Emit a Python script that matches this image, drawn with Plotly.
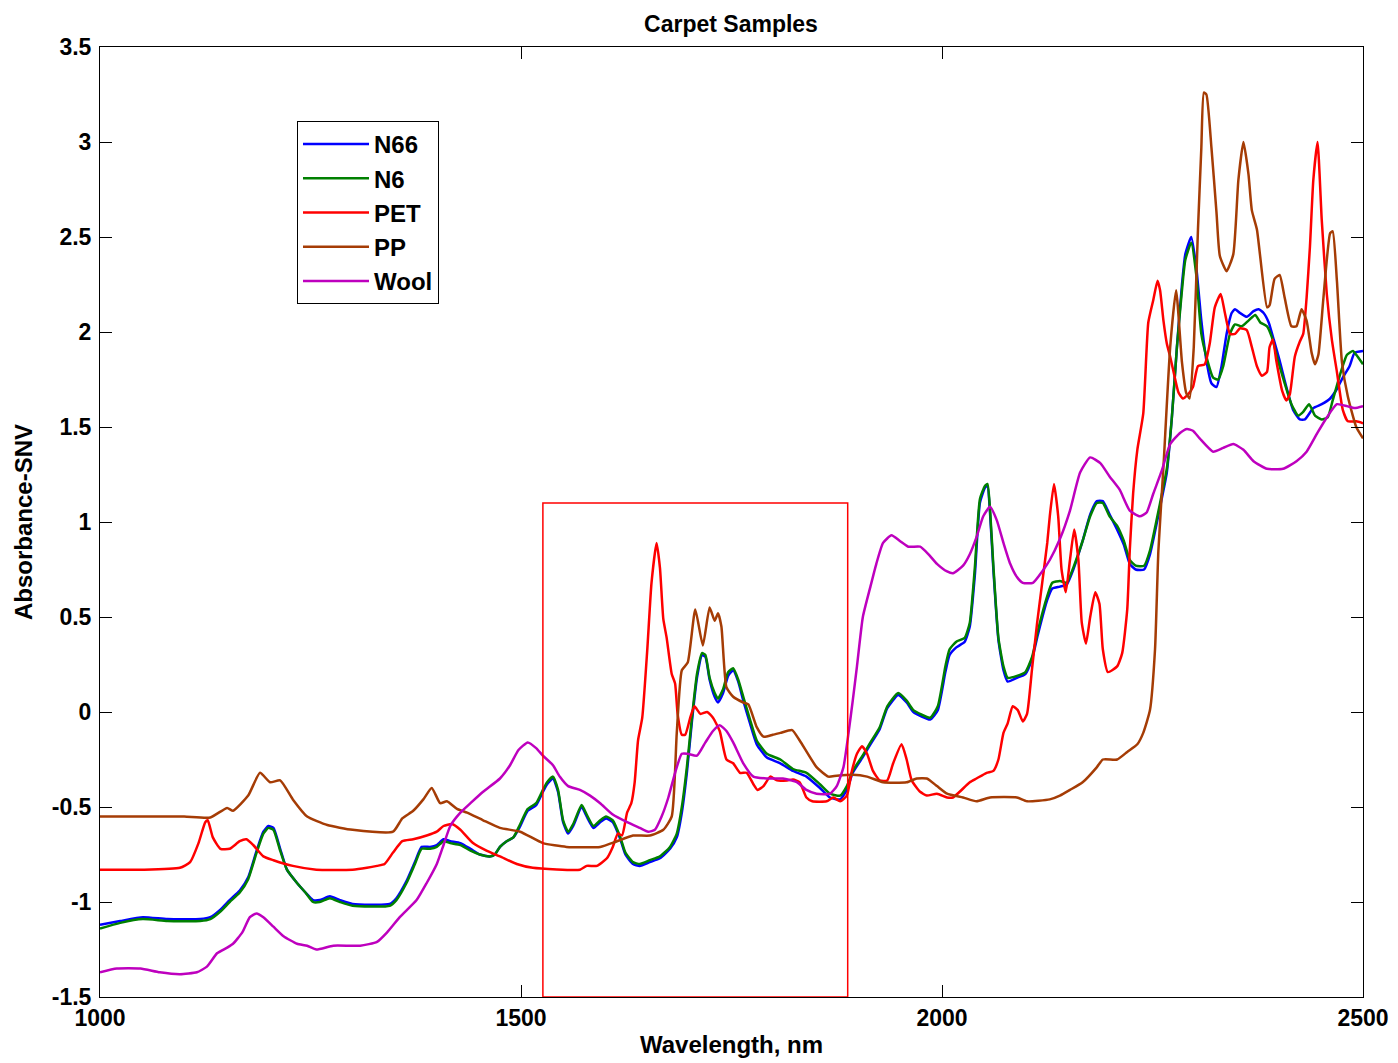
import plotly.graph_objects as go

# ---------------- data ----------------
wl_n6 = [1000, 1024, 1051, 1080, 1119, 1131, 1143, 1154, 1166, 1176, 1186, 1194, 1200, 1206, 1214, 1222,
         1234, 1244, 1253, 1261, 1273, 1285, 1300, 1344, 1352, 1364, 1374, 1382, 1392, 1400, 1408, 1416,
         1428, 1440, 1451, 1463, 1469, 1475, 1483, 1491, 1498, 1508, 1518, 1526, 1531, 1538, 1544, 1550,
         1556, 1562, 1572, 1578, 1586, 1594, 1601, 1609, 1618, 1624, 1633, 1641, 1653, 1665, 1677, 1685,
         1691, 1697, 1703, 1709, 1715, 1719, 1724, 1730, 1734, 1740, 1746, 1752, 1758, 1764, 1772, 1780,
         1792, 1808, 1823, 1839, 1855, 1867, 1879, 1887, 1894, 1907, 1915, 1926, 1935, 1948, 1958, 1966,
         1986, 1995, 2004, 2009, 2017, 2027, 2033, 2039, 2045, 2051, 2054, 2057, 2061, 2067, 2073, 2078,
         2089, 2099, 2107, 2114, 2125, 2131, 2140, 2148, 2156, 2167, 2176, 2184, 2191, 2199, 2208, 2216,
         2223, 2230, 2240, 2247, 2259, 2267, 2273, 2279, 2285, 2289, 2296, 2302, 2308, 2314, 2322, 2328,
         2334, 2342, 2348, 2356, 2364, 2372, 2378, 2386, 2392, 2399, 2407, 2415, 2423, 2429, 2436, 2443,
         2451, 2458, 2464, 2473, 2481, 2488, 2492, 2500]
n6 = [-1.14, -1.11, -1.09, -1.10, -1.10, -1.09, -1.05, -1.00, -0.95, -0.88, -0.74, -0.64, -0.61, -0.62, -0.73, -0.83,
      -0.90, -0.95, -1.00, -1.00, -0.98, -1.00, -1.02, -1.02, -0.99, -0.90, -0.80, -0.72, -0.72, -0.71, -0.68, -0.69,
      -0.70, -0.73, -0.75, -0.76, -0.75, -0.71, -0.68, -0.66, -0.60, -0.51, -0.48, -0.41, -0.37, -0.34, -0.41, -0.57,
      -0.63, -0.59, -0.49, -0.54, -0.60, -0.57, -0.55, -0.57, -0.66, -0.74, -0.79, -0.80, -0.78, -0.76, -0.71, -0.64,
      -0.50, -0.29, -0.03, 0.20, 0.31, 0.30, 0.18, 0.10, 0.07, 0.12, 0.21, 0.23, 0.17, 0.08, -0.04, -0.15,
      -0.22, -0.25, -0.30, -0.32, -0.38, -0.43, -0.44, -0.39, -0.31, -0.22, -0.16, -0.08, 0.03, 0.10, 0.06, 0.01,
      -0.03, 0.03, 0.24, 0.33, 0.37, 0.39, 0.47, 0.76, 1.12, 1.19, 1.20, 1.07, 0.77, 0.39, 0.24, 0.18,
      0.19, 0.21, 0.29, 0.43, 0.61, 0.68, 0.69, 0.68, 0.76, 0.90, 1.03, 1.10, 1.10, 1.03, 0.98, 0.90,
      0.80, 0.77, 0.77, 0.85, 1.10, 1.28, 1.55, 1.92, 2.22, 2.38, 2.47, 2.30, 1.99, 1.87, 1.76, 1.75,
      1.82, 1.99, 2.04, 2.03, 2.06, 2.09, 2.05, 2.03, 1.97, 1.85, 1.73, 1.62, 1.56, 1.58, 1.62, 1.56,
      1.54, 1.55, 1.64, 1.78, 1.88, 1.90, 1.88, 1.83]

wl_n66 = [1000, 1024, 1051, 1080, 1119, 1131, 1143, 1154, 1166, 1176, 1186, 1194, 1200, 1206, 1214, 1222,
          1234, 1244, 1253, 1261, 1273, 1285, 1300, 1344, 1352, 1364, 1374, 1382, 1392, 1400, 1408, 1416,
          1428, 1440, 1451, 1463, 1469, 1475, 1483, 1491, 1498, 1508, 1518, 1526, 1531, 1538, 1544, 1550,
          1556, 1562, 1572, 1578, 1586, 1594, 1601, 1609, 1618, 1624, 1633, 1641, 1653, 1665, 1677, 1685,
          1691, 1697, 1703, 1709, 1715, 1719, 1724, 1730, 1734, 1740, 1746, 1752, 1758, 1764, 1772, 1780,
          1792, 1808, 1823, 1839, 1855, 1867, 1879, 1887, 1894, 1907, 1915, 1926, 1935, 1948, 1958, 1966,
          1986, 1995, 2004, 2009, 2017, 2027, 2033, 2039, 2045, 2051, 2054, 2057, 2061, 2067, 2073, 2078,
          2089, 2099, 2107, 2114, 2125, 2131, 2140, 2148, 2156, 2167, 2176, 2184, 2191, 2199, 2208, 2216,
          2223, 2230, 2240, 2247, 2259, 2267, 2273, 2279, 2285, 2289, 2296, 2302, 2308, 2314, 2320, 2326,
          2332, 2338, 2344, 2348, 2354, 2362, 2370, 2376, 2382, 2388, 2394, 2401, 2409, 2417, 2425, 2431,
          2441, 2451, 2461, 2469, 2476, 2484, 2490, 2500]
n66 = [-1.12, -1.10, -1.08, -1.09, -1.09, -1.08, -1.04, -0.99, -0.94, -0.87, -0.73, -0.63, -0.60, -0.61, -0.72, -0.83,
       -0.90, -0.95, -0.99, -0.99, -0.97, -0.99, -1.01, -1.01, -0.98, -0.89, -0.79, -0.71, -0.71, -0.70, -0.67, -0.68,
       -0.69, -0.72, -0.75, -0.76, -0.75, -0.71, -0.68, -0.66, -0.61, -0.52, -0.49, -0.42, -0.38, -0.35, -0.42, -0.58,
       -0.64, -0.60, -0.50, -0.55, -0.61, -0.58, -0.56, -0.58, -0.67, -0.75, -0.80, -0.81, -0.79, -0.77, -0.72, -0.66,
       -0.53, -0.32, -0.05, 0.18, 0.30, 0.29, 0.17, 0.08, 0.05, 0.10, 0.19, 0.22, 0.16, 0.06, -0.06, -0.17,
       -0.24, -0.27, -0.31, -0.34, -0.40, -0.45, -0.46, -0.41, -0.32, -0.23, -0.17, -0.09, 0.02, 0.09, 0.05, 0.00,
       -0.04, 0.01, 0.21, 0.30, 0.34, 0.37, 0.45, 0.72, 1.10, 1.18, 1.19, 1.05, 0.75, 0.38, 0.22, 0.16,
       0.18, 0.20, 0.28, 0.41, 0.59, 0.65, 0.66, 0.67, 0.75, 0.90, 1.04, 1.11, 1.11, 1.04, 0.96, 0.88,
       0.78, 0.75, 0.75, 0.83, 1.08, 1.26, 1.55, 1.92, 2.25, 2.41, 2.50, 2.34, 2.06, 1.85, 1.73, 1.71,
       1.82, 1.99, 2.10, 2.12, 2.10, 2.08, 2.11, 2.12, 2.10, 2.05, 1.96, 1.85, 1.71, 1.59, 1.54, 1.54,
       1.60, 1.62, 1.65, 1.70, 1.76, 1.82, 1.89, 1.90]

wl_pet = [1000, 1050, 1095, 1107, 1117, 1125, 1128, 1134, 1143, 1154, 1166, 1174, 1182, 1194, 1206, 1229,
          1257, 1300, 1317, 1329, 1338, 1348, 1359, 1372, 1388, 1400, 1408, 1418, 1428, 1443, 1459, 1475,
          1495, 1514, 1570, 1578, 1590, 1602, 1609, 1615, 1620, 1626, 1631, 1635, 1639, 1644, 1650, 1655,
          1661, 1665, 1669, 1673, 1679, 1683, 1686, 1691, 1695, 1701, 1706, 1713, 1721, 1728, 1736, 1744,
          1752, 1760, 1768, 1776, 1781, 1788, 1796, 1804, 1816, 1823, 1831, 1839, 1846, 1863, 1871, 1879,
          1887, 1893, 1899, 1905, 1911, 1918, 1926, 1935, 1942, 1952, 1958, 1964, 1974, 1982, 1994, 2006,
          2013, 2021, 2033, 2041, 2053, 2061, 2067, 2073, 2078, 2084, 2090, 2096, 2101, 2107, 2113, 2119,
          2125, 2128, 2133, 2138, 2142, 2147, 2152, 2157, 2162, 2166, 2171, 2176, 2182, 2187, 2191, 2197,
          2208, 2214, 2220, 2223, 2227, 2232, 2239, 2245, 2251, 2256, 2259, 2263, 2267, 2271, 2277, 2281,
          2286, 2292, 2298, 2304, 2312, 2318, 2324, 2331, 2336, 2342, 2348, 2354, 2362, 2368, 2374, 2380,
          2386, 2389, 2393, 2397, 2404, 2409, 2413, 2419, 2425, 2429, 2433, 2437, 2441, 2446, 2451, 2457,
          2463, 2469, 2476, 2482, 2492, 2500]
pet = [-0.83, -0.83, -0.82, -0.79, -0.69, -0.58, -0.57, -0.66, -0.72, -0.72, -0.68, -0.67, -0.70, -0.76, -0.78, -0.81,
       -0.83, -0.83, -0.82, -0.81, -0.80, -0.74, -0.68, -0.67, -0.65, -0.63, -0.60, -0.59, -0.62, -0.69, -0.73, -0.76,
       -0.80, -0.82, -0.83, -0.81, -0.81, -0.77, -0.71, -0.64, -0.65, -0.53, -0.48, -0.37, -0.15, -0.03, 0.33, 0.68,
       0.89, 0.76, 0.49, 0.39, 0.20, 0.15, -0.01, -0.12, -0.12, -0.03, 0.03, -0.01, 0.00, -0.03, -0.10, -0.25,
       -0.27, -0.32, -0.32, -0.38, -0.41, -0.39, -0.34, -0.36, -0.36, -0.355, -0.37, -0.45, -0.47, -0.47, -0.45, -0.47,
       -0.44, -0.31, -0.22, -0.18, -0.22, -0.31, -0.36, -0.36, -0.27, -0.17, -0.25, -0.36, -0.42, -0.44, -0.43, -0.45,
       -0.45, -0.42, -0.37, -0.35, -0.32, -0.31, -0.25, -0.11, -0.06, 0.03, 0.01, -0.05, -0.01, 0.23, 0.47, 0.68,
       0.89, 1.03, 1.20, 1.03, 0.75, 0.63, 0.80, 0.96, 0.80, 0.47, 0.36, 0.50, 0.63, 0.57, 0.33, 0.21,
       0.24, 0.31, 0.54, 0.85, 1.15, 1.38, 1.57, 2.05, 2.17, 2.27, 2.22, 2.06, 1.94, 1.87, 1.75, 1.68,
       1.65, 1.67, 1.71, 1.82, 1.83, 1.94, 2.13, 2.20, 2.10, 1.99, 1.99, 2.02, 2.01, 1.92, 1.82, 1.77,
       1.79, 1.92, 1.96, 1.85, 1.69, 1.64, 1.67, 1.87, 1.95, 1.99, 2.18, 2.45, 2.80, 3.00, 2.59, 2.20,
       1.96, 1.79, 1.59, 1.53, 1.53, 1.52]

wl_pp = [1000, 1050, 1100, 1131, 1151, 1158, 1176, 1190, 1202, 1214, 1229, 1246, 1270, 1300, 1348, 1359,
         1372, 1384, 1394, 1404, 1412, 1424, 1436, 1455, 1475, 1499, 1526, 1554, 1594, 1614, 1633, 1653,
         1669, 1679, 1685, 1691, 1698, 1707, 1716, 1724, 1730, 1734, 1738, 1744, 1752, 1764, 1770, 1780,
         1788, 1799, 1808, 1822, 1831, 1851, 1865, 1875, 1894, 1911, 1930, 1958, 1970, 1982, 1994, 2006,
         2025, 2041, 2057, 2089, 2101, 2128, 2140, 2152, 2167, 2184, 2191, 2208, 2220, 2232, 2239, 2247,
         2253, 2257, 2263, 2271, 2278, 2285, 2290, 2294, 2299, 2304, 2308, 2311, 2314, 2320, 2326, 2330,
         2338, 2346, 2352, 2358, 2364, 2368, 2374, 2386, 2389, 2395, 2401, 2407, 2415, 2421, 2427, 2433,
         2439, 2443, 2447, 2453, 2461, 2464, 2469, 2475, 2482, 2492, 2500]
pp = [-0.55, -0.55, -0.55, -0.555, -0.505, -0.52, -0.44, -0.32, -0.37, -0.36, -0.46, -0.55, -0.595, -0.62, -0.63, -0.56,
      -0.52, -0.46, -0.40, -0.48, -0.47, -0.51, -0.53, -0.57, -0.61, -0.63, -0.69, -0.71, -0.71, -0.68, -0.65, -0.65,
      -0.62, -0.55, -0.11, 0.22, 0.26, 0.54, 0.35, 0.55, 0.48, 0.52, 0.45, 0.13, 0.08, 0.05, 0.04, -0.08,
      -0.13, -0.12, -0.11, -0.095, -0.15, -0.29, -0.34, -0.335, -0.33, -0.34, -0.37, -0.37, -0.35, -0.35, -0.39, -0.43,
      -0.45, -0.47, -0.45, -0.45, -0.47, -0.46, -0.44, -0.41, -0.37, -0.29, -0.25, -0.25, -0.21, -0.17, -0.11, 0.01,
      0.33, 0.85, 1.29, 1.92, 2.22, 1.84, 1.68, 1.65, 1.92, 2.54, 2.97, 3.26, 3.25, 2.97, 2.63, 2.40,
      2.32, 2.41, 2.80, 3.00, 2.83, 2.64, 2.54, 2.13, 2.14, 2.28, 2.30, 2.18, 2.03, 2.03, 2.12, 2.06,
      1.89, 1.83, 1.88, 2.18, 2.52, 2.53, 2.27, 1.84, 1.66, 1.50, 1.44]

wl_wool = [1000, 1020, 1048, 1071, 1095, 1115, 1127, 1139, 1151, 1158, 1169, 1178, 1186, 1194, 1206, 1218,
           1234, 1246, 1257, 1277, 1309, 1329, 1341, 1356, 1376, 1388, 1400, 1408, 1416, 1428, 1440, 1455,
           1475, 1487, 1497, 1508, 1518, 1526, 1538, 1546, 1556, 1570, 1582, 1594, 1609, 1626, 1641, 1651,
           1659, 1667, 1675, 1683, 1691, 1698, 1709, 1719, 1728, 1736, 1744, 1752, 1764, 1776, 1792, 1811,
           1828, 1839, 1851, 1867, 1875, 1883, 1889, 1894, 1899, 1906, 1915, 1922, 1930, 1940, 1950, 1960,
           1974, 1984, 1994, 2006, 2013, 2025, 2033, 2041, 2049, 2057, 2065, 2073, 2081, 2089, 2096, 2108,
           2119, 2128, 2140, 2152, 2164, 2176, 2188, 2199, 2211, 2223, 2235, 2243, 2251, 2261, 2271, 2283,
           2291, 2298, 2306, 2322, 2334, 2346, 2358, 2370, 2386, 2405, 2421, 2433, 2446, 2457, 2469, 2481,
           2490, 2500]
wool = [-1.37, -1.35, -1.35, -1.37, -1.38, -1.37, -1.34, -1.27, -1.24, -1.22, -1.16, -1.08, -1.06, -1.08, -1.13, -1.18,
        -1.22, -1.23, -1.25, -1.23, -1.23, -1.21, -1.16, -1.08, -0.99, -0.90, -0.80, -0.70, -0.60, -0.53, -0.48, -0.42,
        -0.35, -0.28, -0.20, -0.16, -0.19, -0.23, -0.28, -0.34, -0.39, -0.41, -0.44, -0.48, -0.54, -0.58, -0.61, -0.63,
        -0.62, -0.55, -0.45, -0.32, -0.22, -0.22, -0.23, -0.16, -0.10, -0.07, -0.10, -0.16, -0.27, -0.34, -0.35, -0.35,
        -0.37, -0.41, -0.43, -0.43, -0.39, -0.29, -0.11, 0.06, 0.24, 0.50, 0.66, 0.78, 0.89, 0.93, 0.90, 0.87,
        0.87, 0.83, 0.78, 0.74, 0.73, 0.77, 0.83, 0.92, 1.03, 1.08, 1.01, 0.89, 0.78, 0.71, 0.68, 0.68,
        0.74, 0.80, 0.91, 1.06, 1.26, 1.34, 1.31, 1.24, 1.17, 1.06, 1.03, 1.05, 1.15, 1.27, 1.41, 1.47,
        1.49, 1.48, 1.44, 1.37, 1.39, 1.41, 1.38, 1.32, 1.28, 1.28, 1.32, 1.37, 1.47, 1.55, 1.62, 1.61,
        1.60, 1.61]

x_ticks = [1000, 1500, 2000, 2500]
x_tick_labels = ["1000", "1500", "2000", "2500"]
y_ticks = [-1.5, -1, -0.5, 0, 0.5, 1, 1.5, 2, 2.5, 3, 3.5]
y_tick_labels = ["-1.5", "-1", "-0.5", "0", "0.5", "1", "1.5", "2", "2.5", "3", "3.5"]
box_x = [1526, 1888]
box_y = [-1.5, 1.1]

# ---------------- figure ----------------
FONT = "Liberation Sans, Arial, sans-serif"
series = [
    ("N66", wl_n66, n66, "rgb(0,0,255)"),
    ("N6", wl_n6, n6, "rgb(0,128,0)"),
    ("PET", wl_pet, pet, "rgb(255,0,0)"),
    ("PP", wl_pp, pp, "rgb(165,60,5)"),
    ("Wool", wl_wool, wool, "rgb(190,0,190)"),
]

fig = go.Figure()
for name, xs, ys, col in series:
    fig.add_trace(go.Scatter(x=xs, y=ys, mode="lines", name=name, legendgroup=name,
                             line=dict(color=col, width=2.5, shape="spline", smoothing=0.5)))

fig.add_shape(type="rect", xref="x", yref="y", x0=box_x[0], x1=box_x[1], y0=box_y[0], y1=box_y[1],
              line=dict(color="rgb(255,0,0)", width=1.5), fillcolor="rgba(0,0,0,0)")

axis_common = dict(showgrid=False, zeroline=False, showline=True, linecolor="black", linewidth=1,
                   mirror="ticks", ticks="inside", ticklen=12, tickcolor="black", tickwidth=1,
                   tickfont=dict(family=FONT, size=23, color="black", weight="bold"))

fig.update_xaxes(range=[1000, 2500], tickmode="array", tickvals=x_ticks, ticktext=x_tick_labels,
                 title=dict(text="Wavelength, nm", font=dict(family=FONT, size=24, color="black", weight="bold"),
                            standoff=6),
                 **axis_common)
fig.update_yaxes(range=[-1.5, 3.5], tickmode="array", tickvals=y_ticks, ticktext=y_tick_labels,
                 ticklabelstandoff=3,
                 title=dict(text="Absorbance-SNV", font=dict(family=FONT, size=24, color="black", weight="bold"),
                            standoff=12),
                 **axis_common)

# page body has an 8 px margin, so the figure is sized/offset to put the axes box at 100..1363 x 47..997
fig.update_layout(
    width=1390, height=1055,
    margin=dict(l=92, r=35, t=39, b=66, autoexpand=False),
    paper_bgcolor="white", plot_bgcolor="white",
    title=dict(text="Carpet Samples", x=(731 - 8) / 1390, xanchor="center",
               y=1 - 16 / 1055, yanchor="middle",
               font=dict(family=FONT, size=23, color="black", weight="bold")),
    legend=dict(x=(297 - 100) / 1263, y=(997 - 121) / 950, xanchor="left", yanchor="top", bgcolor="white",
                bordercolor="black", borderwidth=1, tracegroupgap=0,
                font=dict(family=FONT, size=24, color="black", weight="bold"),
                itemwidth=66),
    showlegend=True,
)

fig.write_html("out.html")
